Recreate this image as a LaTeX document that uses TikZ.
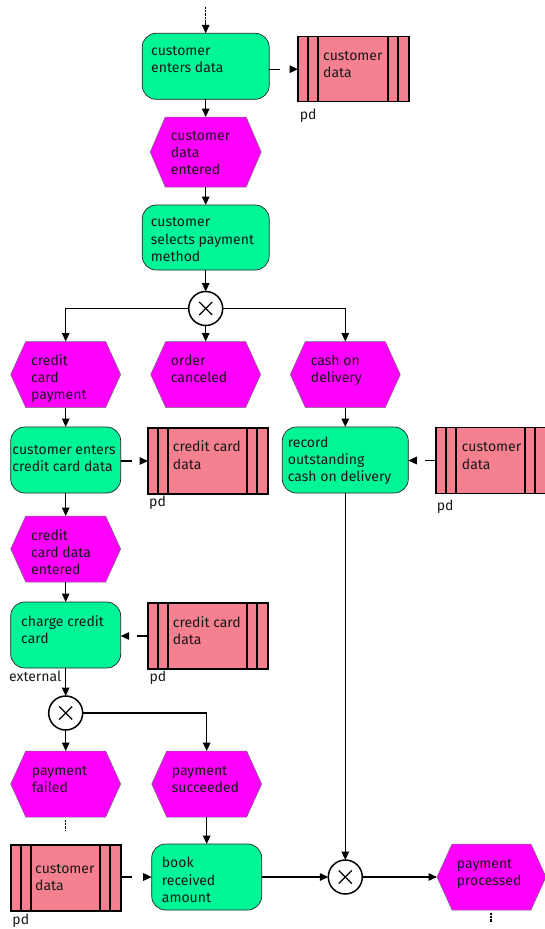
\documentclass[tikz,border=0pt]{standalone}
\usepackage{fontspec}
\setmainfont{Fira Sans}
\usetikzlibrary{arrows.meta,calc}
\definecolor{funcgreen}{RGB}{0,245,150}
\definecolor{evmag}{RGB}{255,0,255}
\definecolor{datapink}{RGB}{245,128,143}
\newcommand\epcfont{\fontsize{14}{17.2}\selectfont}
\tikzset{
  epcline/.style={line width=1.4pt, -{Triangle[length=8.5pt,width=7.5pt]}},
  funcbox/.style={draw=black!85, line width=0.7pt, fill=funcgreen, rounded corners=14pt, inner sep=0, outer sep=0},
  evbox/.style={inner sep=0, outer sep=0},
  evshape/.style={fill=evmag, draw=black!55, line width=0.5pt},
  databox/.style={draw=black, line width=1.5pt, fill=datapink, inner sep=0, outer sep=0},
  xorgate/.style={circle, draw=black, line width=1.5pt, fill=white, minimum size=34pt, inner sep=0, outer sep=0},
  epctext/.style={anchor=north west, inner sep=0, align=left, font=\epcfont, text=black!90},
  lbl/.style={anchor=base west, inner sep=0, font=\epcfont, text=black!90},
  dashflow/.style={epcline, dash pattern=on 11pt off 30pt},
  dotflow/.style={line width=1.4pt, dash pattern=on 0.7pt off 0.7pt},
}
\newcommand\EPCfunc[5]{%
  \node[funcbox, minimum width=#4pt, minimum height=#5pt] (#1) at (#2,#3) {};}
\newcommand\EPCevent[5]{%
  \node[evbox, minimum width=#4pt, minimum height=#5pt] (#1) at (#2,#3) {};
  \path[evshape] (#1.west) -- ([xshift=15pt]#1.north west) -- ([xshift=-15pt]#1.north east) -- (#1.east) -- ([xshift=-15pt]#1.south east) -- ([xshift=15pt]#1.south west) -- cycle;}
\newcommand\EPCdata[5]{%
  \node[databox, minimum width=#4pt, minimum height=#5pt] (#1) at (#2,#3) {};
  \draw[line width=1.5pt] ([xshift=10pt]#1.north west) -- ([xshift=10pt]#1.south west)
     ([xshift=20pt]#1.north west) -- ([xshift=20pt]#1.south west)
     ([xshift=-21pt]#1.north east) -- ([xshift=-21pt]#1.south east)
     ([xshift=-11pt]#1.north east) -- ([xshift=-11pt]#1.south east);}
\newcommand\EPCxor[3]{%
  \node[xorgate] (#1) at (#2,#3) {};
  \draw[line width=1.3pt] ([shift={(-6.5pt,-6.5pt)}]#1.center) -- ([shift={(6.5pt,6.5pt)}]#1.center)
     ([shift={(-6.5pt,6.5pt)}]#1.center) -- ([shift={(6.5pt,-6.5pt)}]#1.center);}
\begin{document}
\begin{tikzpicture}[x=1pt,y=-1pt]
\useasboundingbox[fill=white] (0,0) rectangle (545,929);
% shapes
\EPCfunc{F1}{205.7}{66.3}{127}{66}
\EPCdata{D1}{353.5}{69.2}{111}{65}
\EPCevent{E1}{205.7}{152}{111}{70}
\EPCfunc{F2}{205.7}{237.5}{127}{65}
\EPCxor{X1}{205.7}{308.5}
\EPCevent{Ecc}{65.7}{374.5}{110}{66}
\EPCevent{Eoc}{205.7}{374.5}{110}{66}
\EPCevent{Ecod}{345.3}{374.5}{110}{66}
\EPCfunc{Fcc}{65.7}{460}{110}{66}
\EPCdata{Dcc}{208}{461}{120}{66}
\EPCfunc{Frec}{345.3}{460}{126}{66}
\EPCdata{Dcd}{491}{460.5}{110}{66}
\EPCevent{Ecce}{65.7}{549}{110}{66}
\EPCfunc{Fch}{65.7}{635}{110}{66}
\EPCdata{Dcc2}{208}{636}{120}{66}
\EPCxor{X2}{65.7}{713}
\EPCevent{Efail}{65.7}{784}{110}{66}
\EPCevent{Esucc}{206.7}{784}{110}{66}
\EPCdata{Dcust3}{66}{878}{110}{66}
\EPCfunc{Fbook}{206.7}{877}{110}{66}
\EPCxor{X3}{345.3}{877}
\EPCevent{Eproc}{491.5}{877}{109}{66}
% texts
\node[epctext] (tF1) at (151,43) {\strut customer\\enters data};
\node[epctext] (tE1) at (170.7,128) {\strut customer\\data\\entered};
\node[epctext] (tD1) at (323,48.5) {\strut customer\\data};
\node[epctext] (tF2) at (150.7,214.7) {\strut customer\\selects payment\\method};
\node[epctext] (tEcc) at (31,353) {\strut credit\\card\\payment};
\node[epctext] (tEoc) at (170.7,353) {\strut order\\canceled};
\node[epctext] (tEcod) at (310.7,353) {\strut cash on\\delivery};
\node[epctext] (tFcc) at (12.3,442.3) {\strut customer enters\\credit card data};
\node[epctext] (tDcc) at (172.7,439.7) {\strut credit card\\data};
\node[epctext] (tFrec) at (287.7,435.3) {\strut record\\outstanding\\cash on delivery};
\node[epctext] (tDcd) at (461.7,439.7) {\strut customer\\data};
\node[epctext] (tEcce) at (31,528) {\strut credit\\card data\\entered};
\node[epctext] (tFch) at (21,614) {\strut charge credit\\card};
\node[epctext] (tDcc2) at (172.7,615.3) {\strut credit card\\data};
\node[epctext] (tEfail) at (31.7,763.3) {\strut payment\\failed};
\node[epctext] (tEsucc) at (171.7,763.3) {\strut payment\\succeeded};
\node[epctext] (tDcust3) at (35,861.3) {\strut customer\\data};
\node[epctext] (tFbook) at (161.7,855.7) {\strut book\\received\\amount};
\node[epctext] (tEproc) at (456.7,856.3) {\strut payment\\processed};
% labels
\node[lbl] (pd1) at (299.7,119) {pd};
\node[lbl] (pd2) at (149,506) {pd};
\node[lbl] (pd3) at (436.7,510) {pd};
\node[lbl] (pd4) at (149.3,681.7) {pd};
\node[lbl] (ext) at (9,681.7) {external};
\node[lbl] (pd5) at (12.3,924.3) {pd};
% connectors
\coordinate (s0) at (205.7,7);
\coordinate (s1) at (205.7,20);
\draw[dotflow] (s0) -- (s1);
\draw[epcline] (s1) -- (F1.north);
\draw[dashflow] (F1.east |- D1.west) -- (D1.west);
\draw[epcline] (F1) -- (E1);
\draw[epcline] (E1) -- (F2);
\draw[epcline] (F2) -- (X1);
\draw[epcline] (X1.west) -| (Ecc.north);
\draw[epcline] (X1.south) -- (Eoc.north);
\draw[epcline] (X1.east) -| (Ecod.north);
\draw[epcline] (Ecc) -- (Fcc);
\draw[dashflow] (Fcc.east |- Dcc.west) -- (Dcc.west);
\draw[epcline] (Ecod) -- (Frec);
\draw[dashflow] (Dcd.west) -- (Dcd.west -| Frec.east);
\draw[epcline] (Fcc) -- (Ecce);
\draw[epcline] (Ecce) -- (Fch);
\draw[dashflow] (Dcc2.west) -- (Dcc2.west -| Fch.east);
\draw[epcline] (Fch) -- (X2);
\draw[epcline] (X2.south) -- (Efail.north);
\draw[epcline] (X2.east) -| (Esucc.north);
\draw[epcline] (Esucc) -- (Fbook);
\draw[dashflow] (Dcust3.east |- Fbook.west) -- (Fbook.west);
\draw[epcline] (Fbook.east) -- (X3.west);
\draw[epcline] (Frec.south) -- (X3.north);
\draw[epcline] (X3.east) -- (Eproc.west);
\coordinate (f0) at (65.7,820);
\coordinate (f1) at (65.7,830);
\draw[dotflow] (f0) -- (f1);
\coordinate (p0) at (491,913);
\coordinate (p1) at (491,922);
\draw[dotflow] (p0) -- (p1);
\end{tikzpicture}
\end{document}
